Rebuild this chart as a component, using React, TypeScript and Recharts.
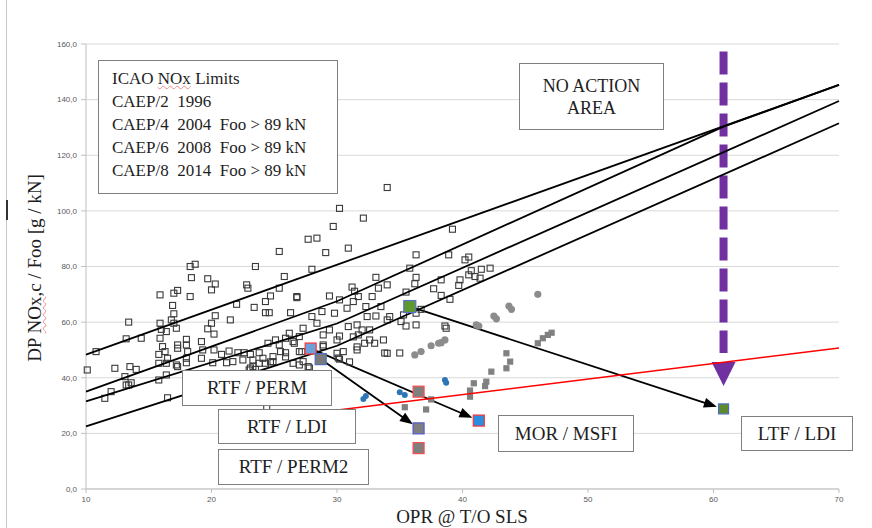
import { ScatterChart, Scatter, XAxis, YAxis, CartesianGrid, ReferenceLine } from 'recharts'

// OPR / DP NOx readings
const enginesLowOpr: [number, number][] = [
  [25.4, 85.4], [23.5, 80.0], [18.3, 80.0], [18.7, 80.8], [18.4, 76.0], [19.7, 75.6], [20.3, 73.7], [20.0, 71.6],
  [22.8, 73.4], [22.9, 72.2], [25.8, 76.4], [25.4, 72.2], [15.9, 69.8], [17.0, 70.4], [17.3, 71.4], [18.3, 69.2],
  [16.9, 66.0], [17.0, 63.0], [24.7, 69.4], [26.8, 68.8], [24.3, 67.4], [23.4, 65.3], [22.0, 66.4], [20.3, 62.3],
  [21.5, 60.8], [24.3, 63.4], [24.6, 63.4], [26.3, 63.4], [20.0, 59.6], [19.7, 57.6], [20.2, 55.7], [13.4, 60.0],
  [15.9, 59.6], [16.8, 60.8], [17.0, 59.6], [16.0, 57.4], [16.4, 56.6], [17.2, 57.8], [14.4, 54.2], [13.2, 54.0],
  [15.9, 54.2], [18.0, 53.8], [19.2, 53.0], [18.0, 51.8], [17.3, 51.8], [16.1, 51.2], [16.3, 49.4], [15.8, 48.4],
  [16.5, 47.0], [17.3, 50.6], [18.1, 49.4], [19.3, 50.0], [20.2, 50.0], [20.8, 48.4], [21.4, 49.6], [22.1, 49.0],
  [22.6, 49.0], [23.1, 48.4], [23.8, 49.0], [24.5, 52.4], [25.1, 53.6], [25.4, 51.8], [25.9, 54.2], [26.2, 56.0],
  [26.6, 52.4], [25.5, 49.4], [25.9, 49.0], [27.0, 49.4], [24.9, 47.6], [24.1, 47.0], [23.3, 46.4], [22.5, 46.4],
  [21.7, 45.8], [21.2, 45.4], [20.1, 45.4], [19.2, 47.0], [18.0, 47.0], [18.0, 45.4], [17.3, 44.0], [17.2, 44.6],
  [16.4, 45.2], [15.8, 45.2], [23.8, 45.2], [24.3, 45.2], [24.9, 45.8], [23.3, 44.0], [23.5, 43.0], [23.0, 42.8],
  [10.8, 49.4], [10.1, 42.8], [12.3, 43.4], [13.5, 44.0], [14.0, 43.0], [13.1, 40.4], [13.2, 37.4], [13.4, 37.4],
  [13.6, 38.2], [15.8, 39.2], [16.4, 41.0], [12.0, 35.0], [11.5, 32.6], [16.5, 32.8],
  [23.1, 43.5], [24.7, 45.7], [25.9, 47.5], [27.0, 44.6], [27.8, 43.5], [24.4, 29.5],
]

const enginesHighOpr: [number, number][] = [
  [34.0, 108.4], [30.2, 100.9], [32.1, 97.4], [29.7, 94.4], [27.7, 89.8], [28.4, 90.2], [30.9, 86.6], [29.1, 85.0],
  [39.2, 93.4], [36.3, 84.2], [38.9, 84.2], [40.5, 83.4], [40.2, 82.4], [28.0, 79.0], [42.2, 79.4], [41.5, 79.0],
  [40.7, 78.5], [35.8, 79.4], [33.1, 76.1], [36.3, 76.1], [38.3, 75.2], [39.8, 75.2], [40.5, 77.0], [41.0, 76.4],
  [41.4, 75.8], [39.7, 73.2], [34.0, 73.4], [33.3, 72.2], [36.2, 73.8], [31.2, 72.6], [31.4, 71.1], [35.5, 70.8],
  [37.7, 72.0], [38.3, 69.6], [39.0, 68.2], [26.8, 69.2], [29.4, 69.4], [30.2, 68.0], [31.7, 69.2], [32.8, 69.2],
  [33.5, 65.6], [32.3, 65.6], [31.3, 67.4], [30.8, 65.0], [28.8, 63.8], [29.8, 63.2], [28.0, 62.0], [34.2, 62.0],
  [33.1, 62.2], [35.3, 62.6], [36.3, 63.2], [36.7, 64.6], [35.1, 60.2], [36.3, 59.0], [35.5, 58.6], [34.0, 60.8],
  [32.4, 62.0], [30.9, 58.4], [31.6, 59.0], [32.0, 57.2], [29.4, 57.2], [28.4, 59.6], [27.3, 57.8], [28.9, 55.4],
  [30.2, 55.0], [31.7, 55.4], [33.0, 52.4], [32.6, 53.6], [32.2, 52.4], [34.0, 48.8], [31.6, 50.0], [30.5, 49.4],
  [30.2, 46.7], [30.0, 48.8], [28.9, 51.2], [27.0, 54.8], [26.5, 53.0], [27.2, 49.4], [27.3, 45.8], [27.7, 44.0],
  [26.5, 45.2], [38.6, 58.6], [38.7, 57.8],
  [28.9, 51.8], [30.0, 53.6], [31.3, 54.7], [31.6, 51.1], [32.6, 57.2], [33.7, 53.6], [35.0, 48.9], [33.8, 48.9],
  [30.1, 47.1], [31.0, 45.7],
]

const grayCircles: [number, number][] = [
  [46.0, 70.0], [43.7, 65.8], [43.9, 64.6], [42.5, 62.2], [42.7, 61.2], [41.1, 59.0], [41.3, 58.6],
  [38.6, 53.6], [38.3, 52.6], [38.1, 52.4], [37.5, 51.5], [36.7, 49.4], [36.2, 48.2],
]

const graySquares: [number, number][] = [
  [46.0, 52.4], [46.4, 54.2], [46.8, 55.4], [47.1, 56.2], [43.5, 48.8], [43.8, 45.8], [43.5, 43.4], [42.3, 42.2],
  [41.9, 38.6], [41.8, 37.0], [40.9, 38.0], [40.6, 35.4], [40.6, 33.2], [37.5, 32.2], [37.1, 28.6], [35.4, 29.4],
]

const blueCircles: [number, number][] = [
  [38.6, 39.2], [38.7, 38.2], [35.0, 34.8], [35.4, 33.8], [32.1, 32.4], [32.3, 33.4],
]

// CAEP limit lines (OPR, DP/Foo)
const caep2: [number, number][] = [[10, 48.3], [70, 145.3]]
const caep4: [number, number][] = [[10, 35.0], [30, 67.5], [60.8, 130.3], [70, 145.3]]
const caep6: [number, number][] = [[10, 31.5], [30, 59.5], [70, 139.5]]
const caep8: [number, number][] = [[10, 22.5], [30, 51.5], [70, 131.5]]
const targetLine: [number, number][] = [[27, 26.7], [70, 50.7]]

// technology moves: from -> to
const rtfPerm: [number, number] = [27.9, 50.5]
const rtfLdi: [number, number] = [28.7, 46.7]
const morMsfi: [number, number] = [41.3, 24.6]
const rtfLdiNew: [number, number] = [36.5, 21.8]
const ltfFrom: [number, number] = [35.8, 65.6]
const ltfTo: [number, number] = [60.8, 28.8]
const perm2Points: [number, number][] = [[36.5, 35.0], [36.5, 14.7]]
const noActionArrow: [number, number][] = [[60.8, 158], [60.8, 37]]

const yTicks = [0, 20, 40, 60, 80, 100, 120, 140, 160]
const xTicks = [10, 20, 30, 40, 50, 60, 70]

const pts = (arr: [number, number][]) => arr.map(([x, y]) => ({ x, y }))

const openSquare = (p: any) => (
  <rect x={p.cx - 3} y={p.cy - 3} width={6} height={6} fill="none" stroke="#3a3a3a" strokeWidth={1.1} />
)
const filledSquare = (fill: string, stroke: string, size: number) => (p: any) => (
  <rect x={p.cx - size / 2} y={p.cy - size / 2} width={size} height={size} fill={fill} stroke={stroke} strokeWidth={1.2} />
)
const dot = (fill: string, r: number) => (p: any) => <circle cx={p.cx} cy={p.cy} r={r} fill={fill} />
const noShape = () => <g />

const Arrow = (p: any) => {
  const { x1, y1, x2, y2 } = p
  const len = Math.hypot(x2 - x1, y2 - y1)
  const ux = (x2 - x1) / len
  const uy = (y2 - y1) / len
  const tx = x2 - ux * 7
  const ty = y2 - uy * 7
  const bx = tx - ux * 13
  const by = ty - uy * 13
  return (
    <g>
      <line x1={x1 + ux * 6} y1={y1 + uy * 6} x2={bx + ux * 2} y2={by + uy * 2} stroke="#000" strokeWidth={1.8} />
      <polygon points={`${tx},${ty} ${bx - uy * 5},${by + ux * 5} ${bx + uy * 5},${by - ux * 5}`} fill="#000" />
    </g>
  )
}

const PurpleArrow = (p: any) => {
  const { x1, y1, y2 } = p
  return (
    <g>
      <line x1={x1} y1={y1 + 2} x2={x1} y2={y2 - 33} stroke="#7030a0" strokeWidth={8} strokeDasharray="23 8" />
      <polygon points={`${x1 - 12},${y2 - 24} ${x1 + 12},${y2 - 24} ${x1},${y2}`} fill="#7030a0" />
    </g>
  )
}

const serif = '"Liberation Serif", "Times New Roman", serif'
const squiggle: React.CSSProperties = {
  textDecorationLine: 'underline',
  textDecorationStyle: 'wavy',
  textDecorationColor: '#f08a8a',
  textDecorationThickness: '1px',
}

const boxStyle = (left: number, top: number, width: number, height: number): React.CSSProperties => ({
  position: 'absolute',
  left,
  top,
  width,
  height,
  boxSizing: 'border-box',
  background: '#fff',
  border: '1.5px solid #7f7f7f',
  fontFamily: serif,
  fontSize: 19,
  color: '#1e1e1e',
  display: 'flex',
  alignItems: 'center',
  justifyContent: 'center',
  whiteSpace: 'nowrap',
})

export default function App() {
  const tickStyle = { fontSize: 8, fill: '#595959', fontFamily: '"Liberation Sans", Arial, sans-serif' }
  return (
    <div style={{ position: 'absolute', left: 0, top: 0, width: 872, height: 528, background: '#fff', overflow: 'hidden' }}>
      <div style={{ position: 'absolute', left: 6, top: 0, width: 1, height: 528, background: '#c8c8c8' }} />
      <div style={{ position: 'absolute', left: 6, top: 200, width: 2, height: 20, background: '#333' }} />
      <ScatterChart width={872} height={528} margin={{ top: 44, right: 33, bottom: 9, left: 26 }}>
        <CartesianGrid vertical={false} stroke="#d9d9d9" />
        <XAxis
          type="number"
          dataKey="x"
          domain={[10, 70]}
          ticks={xTicks}
          height={30}
          tick={tickStyle}
          tickSize={4}
          tickMargin={3}
          stroke="#bfbfbf"
        />
        <YAxis
          type="number"
          dataKey="y"
          domain={[0, 160]}
          ticks={yTicks}
          width={60}
          tick={tickStyle}
          tickSize={5}
          tickMargin={4}
          stroke="#bfbfbf"
          tickFormatter={(v: number) => v.toFixed(1).replace('.', ',')}
        />
        <Scatter data={pts(enginesLowOpr)} shape={openSquare} isAnimationActive={false} />
        <Scatter data={pts(enginesHighOpr)} shape={openSquare} isAnimationActive={false} />
        <Scatter data={pts(grayCircles)} shape={dot('#8c8c8c', 3.6)} isAnimationActive={false} />
        <Scatter data={pts(graySquares)} shape={filledSquare('#808080', '#808080', 5)} isAnimationActive={false} />
        <Scatter data={pts(blueCircles)} shape={dot('#2e75b6', 3)} isAnimationActive={false} />
        <Scatter data={pts(targetLine)} line={{ stroke: '#ff0000', strokeWidth: 1.5 }} lineType="joint" shape={noShape} isAnimationActive={false} />
        <Scatter data={pts(caep2)} line={{ stroke: '#000', strokeWidth: 1.8 }} lineType="joint" shape={noShape} isAnimationActive={false} />
        <Scatter data={pts(caep4)} line={{ stroke: '#000', strokeWidth: 1.8 }} lineType="joint" shape={noShape} isAnimationActive={false} />
        <Scatter data={pts(caep6)} line={{ stroke: '#000', strokeWidth: 1.8 }} lineType="joint" shape={noShape} isAnimationActive={false} />
        <Scatter data={pts(caep8)} line={{ stroke: '#000', strokeWidth: 1.8 }} lineType="joint" shape={noShape} isAnimationActive={false} />
        <Scatter data={pts(perm2Points)} shape={filledSquare('#7f7f7f', '#ff4d4d', 11)} isAnimationActive={false} />
        <Scatter data={pts([rtfPerm])} shape={filledSquare('#6f9fd8', '#ff3333', 11)} isAnimationActive={false} />
        <Scatter data={pts([rtfLdi])} shape={filledSquare('#7a7a7a', '#4a6fc4', 11)} isAnimationActive={false} />
        <Scatter data={pts([ltfFrom])} shape={filledSquare('#5e9a2e', '#5b6fd0', 12)} isAnimationActive={false} />
        <Scatter data={pts([morMsfi])} shape={filledSquare('#2b8ee0', '#ff3333', 11)} isAnimationActive={false} />
        <Scatter data={pts([rtfLdiNew])} shape={filledSquare('#7f7f7f', '#5a5ad0', 11)} isAnimationActive={false} />
        <Scatter data={pts([ltfTo])} shape={filledSquare('#5e8a2e', '#4a6fc4', 10)} isAnimationActive={false} />
        <ReferenceLine segment={pts([rtfPerm, morMsfi])} shape={Arrow} />
        <ReferenceLine segment={pts([rtfLdi, rtfLdiNew])} shape={Arrow} />
        <ReferenceLine segment={pts([ltfFrom, ltfTo])} shape={Arrow} />
        <ReferenceLine segment={pts(noActionArrow)} shape={PurpleArrow} />
      </ScatterChart>

      <div style={{ ...boxStyle(98, 60, 240, 134), fontSize: 17, display: 'block', padding: '6px 0 0 13px', lineHeight: '23px' }}>
        <div>ICAO <span style={squiggle}>NOx</span> Limits</div>
        <div>CAEP/2&nbsp;&nbsp;1996</div>
        <div>CAEP/4&nbsp;&nbsp;2004&nbsp;&nbsp;Foo &gt; 89 kN</div>
        <div>CAEP/6&nbsp;&nbsp;2008&nbsp;&nbsp;Foo &gt; 89 kN</div>
        <div>CAEP/8&nbsp;&nbsp;2014&nbsp;&nbsp;Foo &gt; 89 kN</div>
      </div>
      <div style={{ ...boxStyle(519, 63, 145, 67), fontSize: 18, flexDirection: 'column', lineHeight: '22px' }}>
        <div>NO ACTION</div>
        <div>AREA</div>
      </div>
      <div style={boxStyle(182, 370, 150, 36)}>RTF / PERM</div>
      <div style={boxStyle(218, 409, 138, 35)}>RTF / LDI</div>
      <div style={boxStyle(218, 449, 151, 36)}>RTF / PERM2</div>
      <div style={boxStyle(498, 415, 136, 37)}>MOR / MSFI</div>
      <div style={boxStyle(741, 416, 112, 35)}>LTF / LDI</div>

      <div
        style={{
          position: 'absolute',
          left: 35,
          top: 268,
          transform: 'translate(-50%, -50%) rotate(-90deg)',
          whiteSpace: 'nowrap',
          fontFamily: serif,
          fontSize: 19,
          color: '#1e1e1e',
        }}
      >
        DP <span style={squiggle}>NOx</span>,c / Foo [g / kN]
      </div>
      <div
        style={{
          position: 'absolute',
          left: 462,
          top: 517,
          transform: 'translate(-50%, -50%)',
          whiteSpace: 'nowrap',
          fontFamily: serif,
          fontSize: 19,
          color: '#1e1e1e',
        }}
      >
        OPR @ T/O SLS
      </div>
    </div>
  )
}
